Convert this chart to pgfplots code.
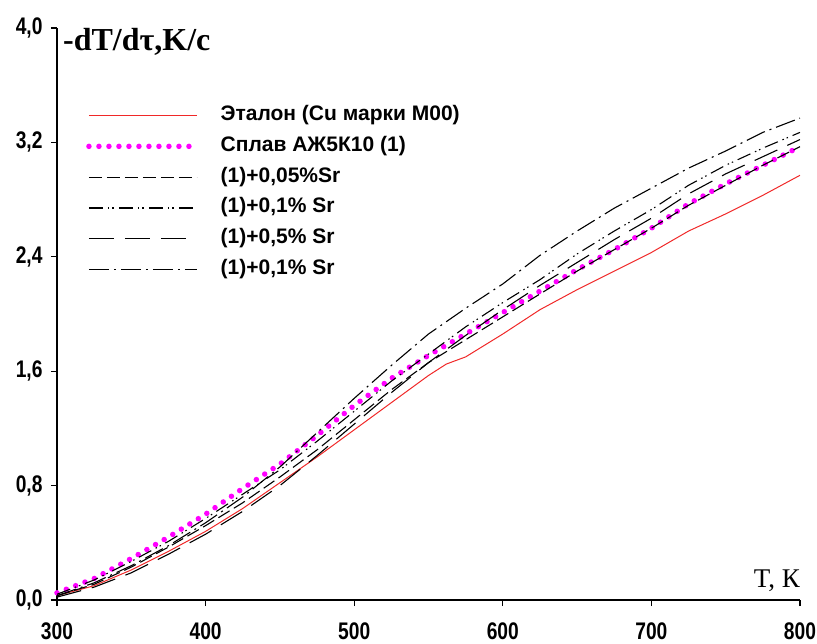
\documentclass[border=0pt]{standalone}
\usepackage{pgfplots}
\pgfplotsset{compat=1.18}
\usepackage{fontspec}
\setmainfont{Liberation Sans}
\newfontfamily\serif{Liberation Serif}
\newfontfamily\narrowb[FakeStretch=0.8, UprightFont=* Bold]{Liberation Sans}

\definecolor{etalon}{RGB}{240,40,40}
\definecolor{splav}{RGB}{255,0,255}

\begin{document}
\begin{tikzpicture}
\useasboundingbox (-57pt,-43pt) rectangle (760pt,600pt);
\begin{axis}[
  at={(0pt,0pt)}, anchor=south west,
  scale only axis,
  width=743pt, height=572pt,
  xmin=300, xmax=800,
  ymin=0, ymax=4,
  axis lines=left,
  axis line style={-, line width=2.4pt},
  xtick={300,400,...,800},
  ytick={0,0.8,1.6,2.4,3.2,4.0},
  tick align=outside,
  major tick length=6pt,
  tick style={line width=1.2pt, black},
  /pgf/number format/assume math mode=true,
  yticklabel style={/pgf/number format/use comma, /pgf/number format/fixed,
    /pgf/number format/fixed zerofill, /pgf/number format/precision=1, xshift=-5pt},
  ticklabel style={font=\fontsize{24}{26}\selectfont\narrowb},
  xticklabel style={yshift=-13pt},
  legend cell align=left,
  legend image code/.code={\draw[#1] (0pt,0pt) -- (108pt,0pt);},
  legend style={draw=none, fill=none,
    at={(rel axis cs:0.035,0.870)}, anchor=north west,
    font=\fontsize{21}{23}\selectfont\bfseries,
    row sep=8.8pt,
    nodes={text height=14pt, text depth=4pt, inner sep=2pt},
    /tikz/every odd column/.append style={column sep=19pt}},
  clip=false,
]
% Эталон
\addplot[etalon, line width=1pt] coordinates {
(300,0.03) (325,0.10) (350,0.21) (375,0.34) (400,0.48) (425,0.64) (450,0.82)
(475,1.00) (500,1.19) (525,1.38) (550,1.57) (562,1.65) (575,1.70) (600,1.86)
(625,2.03) (650,2.17) (675,2.30) (700,2.43) (725,2.58) (750,2.70) (775,2.83) (800,2.97)
};
% Сплав АЖ5К10
\addplot[splav, line width=5.5pt, line cap=round, dash pattern=on 0pt off 10pt] coordinates {
(300,0.05) (325,0.15) (350,0.29) (375,0.44) (400,0.60) (425,0.78) (450,0.95)
(475,1.15) (500,1.36) (525,1.55) (550,1.71) (575,1.86) (600,2.01) (625,2.16)
(650,2.31) (675,2.45) (700,2.60) (725,2.77) (750,2.91) (775,3.04) (800,3.17)
};
% (1)+0,05%Sr
\addplot[black, line width=1.1pt, dash pattern=on 13pt off 5pt] coordinates {
(300,0.03) (325,0.11) (350,0.23) (375,0.37) (400,0.52) (425,0.68) (450,0.86)
(475,1.05) (500,1.26) (525,1.47) (550,1.66) (575,1.82) (600,1.98) (625,2.14)
(650,2.30) (675,2.45) (700,2.60) (725,2.76) (750,2.90) (775,3.04) (800,3.17)
};
% (1)+0,1%Sr
\addplot[black, line width=1.1pt, dash pattern=on 14pt off 5pt on 1.5pt off 3pt on 1.5pt off 5pt] coordinates {
(300,0.04) (325,0.14) (350,0.27) (375,0.41) (400,0.57) (425,0.74) (450,0.91)
(475,1.11) (500,1.32) (525,1.53) (550,1.72) (575,1.91) (600,2.08) (625,2.24)
(650,2.42) (675,2.58) (700,2.73) (725,2.90) (750,3.04) (775,3.16) (800,3.27)
};
% (1)+0,5%Sr
\addplot[black, line width=1.1pt, dash pattern=on 25pt off 11pt] coordinates {
(300,0.02) (325,0.09) (350,0.19) (375,0.32) (400,0.46) (425,0.62) (450,0.80)
(475,1.01) (500,1.23) (525,1.45) (550,1.66) (575,1.85) (600,2.03) (625,2.20)
(650,2.36) (675,2.52) (700,2.67) (725,2.84) (750,2.98) (775,3.10) (800,3.22)
};
% (1)+0,1%Sr
\addplot[black, line width=1.1pt, dash pattern=on 20pt off 5pt on 2pt off 5pt] coordinates {
(300,0.03) (325,0.12) (350,0.24) (375,0.38) (400,0.54) (425,0.72) (450,0.93)
(475,1.17) (500,1.41) (525,1.64) (550,1.86) (575,2.04) (600,2.21) (625,2.41)
(650,2.58) (675,2.74) (700,2.88) (725,3.02) (750,3.14) (775,3.27) (800,3.37)
};
\legend{Эталон (Cu марки M00), Сплав АЖ5К10 (1), {(1)+0,05\%Sr}, {(1)+0,1\% Sr}, {(1)+0,5\% Sr}, {(1)+0,1\% Sr}}
\node[anchor=north west, inner sep=0pt, font=\fontsize{32}{34}\selectfont\serif\bfseries]
  at (rel axis cs:0.008,1.0) {-dT/dτ,K/c};
\node[anchor=south east, inner sep=0pt, font=\fontsize{27}{29}\selectfont\serif]
  at (rel axis cs:1.0,0.015) {T, К};
\end{axis}
\end{tikzpicture}
\end{document}
